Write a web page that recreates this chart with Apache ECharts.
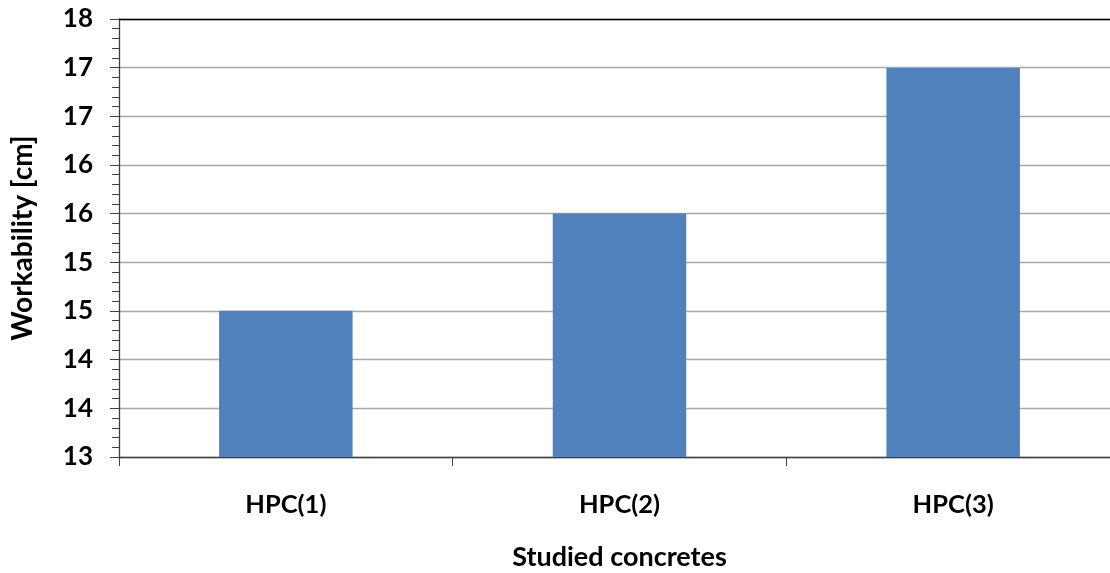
<!DOCTYPE html>
<html>
<head>
<meta charset="utf-8">
<script src="https://cdn.jsdelivr.net/npm/echarts@6/dist/echarts.min.js"></script>
<style>
  html, body { margin: 0; padding: 0; background: #fff; }
  #chart { width: 1110px; height: 573px; }
</style>
</head>
<body>
<div id="chart"></div>
<script>
// Slump workability of the three concrete mixes
const categories = ['HPC(1)', 'HPC(2)', 'HPC(3)'];
const workability = [14.67, 15.78, 17.44];
const yMin = 13;
const yMax = 18;
const yStep = 5 / 9;

const FONT = 'Lato, "Open Sans", sans-serif';

const chart = echarts.init(document.getElementById('chart'));
chart.setOption({
  animation: false,
  backgroundColor: '#ffffff',
  grid: {
    left: 119, right: -10, top: 19, bottom: 116,
    containLabel: false,
    outerBoundsMode: 'none'
  },
  xAxis: {
    type: 'category',
    data: categories,
    name: 'Studied concretes',
    nameLocation: 'middle',
    nameGap: 87,
    nameTextStyle: { fontFamily: FONT, fontWeight: 'bold', fontSize: 27, color: '#000' },
    axisLine: { lineStyle: { color: '#404040', width: 1.3 } },
    axisTick: { show: true, length: 9, alignWithLabel: false, lineStyle: { color: '#404040' } },
    axisLabel: { margin: 35, fontFamily: FONT, fontWeight: 'bold', fontSize: 25.5, color: '#000' },
    splitLine: { show: false }
  },
  yAxis: {
    type: 'value',
    min: yMin,
    max: yMax,
    interval: yStep,
    name: 'Workability [cm]',
    nameLocation: 'middle',
    nameGap: 82,
    nameTextStyle: { fontFamily: FONT, fontWeight: 'bold', fontSize: 28, color: '#000' },
    axisLine: { show: true, lineStyle: { color: '#404040', width: 1.3 } },
    axisTick: { show: true, length: 9, lineStyle: { color: '#404040' } },
    minorTick: { show: true, splitNumber: 5, length: 7, lineStyle: { color: '#404040' } },
    axisLabel: {
      margin: 26,
      fontFamily: FONT, fontWeight: 'bold', fontSize: 26, color: '#000',
      formatter: v => String(Math.round(v))
    },
    splitLine: { show: true, lineStyle: { color: '#a6a6a6', width: 1.3 } }
  },
  series: [{
    type: 'bar',
    data: workability,
    barWidth: '40%',
    itemStyle: { color: '#4F81BD' },
    markLine: {
      silent: true,
      symbol: 'none',
      label: { show: false },
      lineStyle: { color: '#000', type: 'solid', width: 1.3 },
      data: [{ yAxis: yMax }]
    }
  }]
});
</script>
</body>
</html>
